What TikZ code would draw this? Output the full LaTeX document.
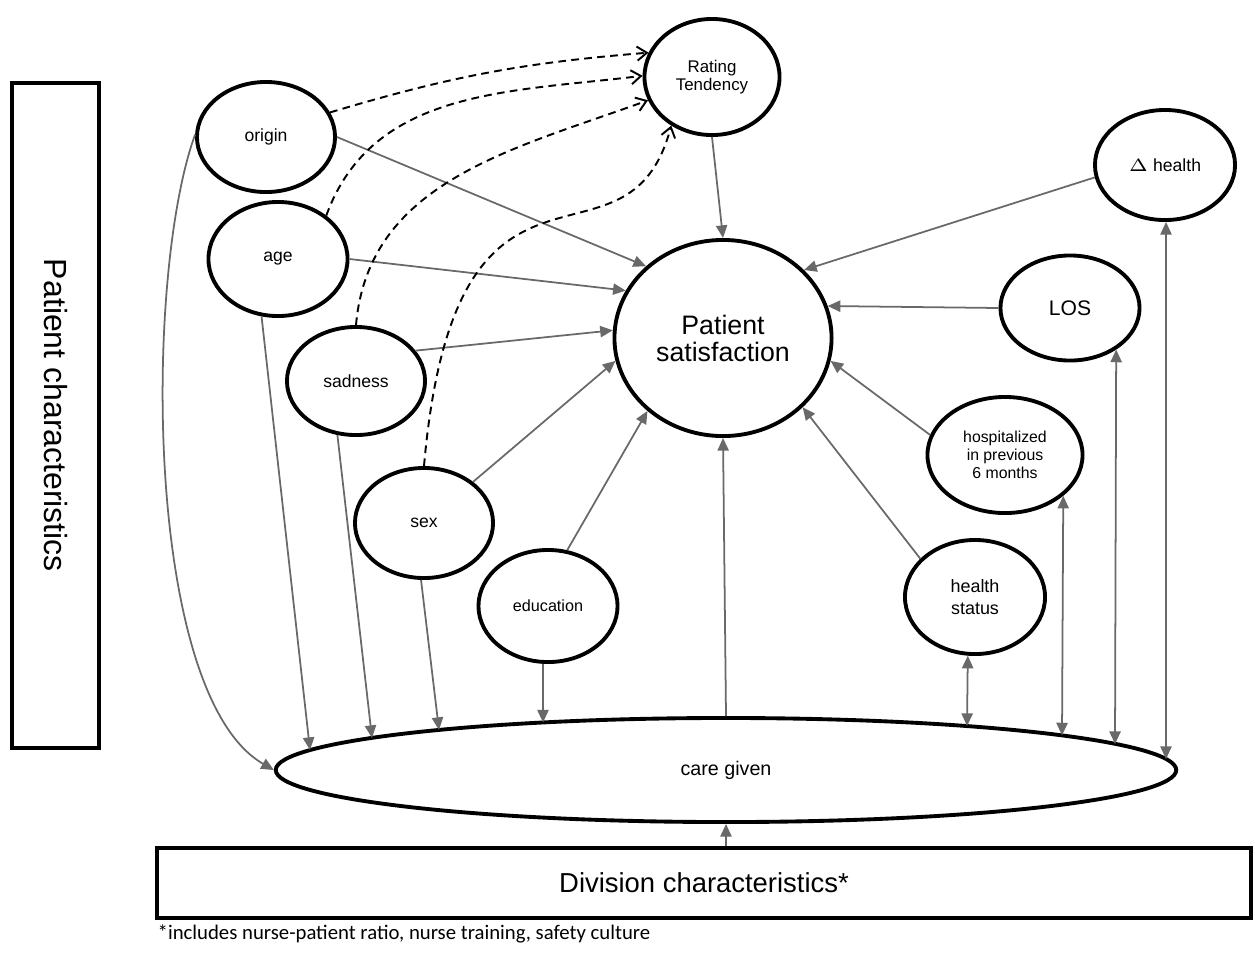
\documentclass[tikz,border=0pt]{standalone}
\usepackage{fontspec}
\setmainfont{Liberation Sans}
\newfontfamily\notefont{Carlito}
\usetikzlibrary{shapes.geometric,arrows.meta,positioning,calc}
\definecolor{linkgray}{RGB}{105,105,105}
\tikzset{var/.style={draw,ellipse,line width=1.1pt,inner sep=0pt,align=center,font=\fontsize{5}{5.2}\selectfont}}
\tikzset{eff/.style={color=linkgray,line width=0.5pt,-{Triangle[length=3.6pt,width=3.2pt]}}}
\tikzset{mut/.style={eff,{Triangle[length=3.6pt,width=3.2pt]}-{Triangle[length=3.6pt,width=3.2pt]}}}
\tikzset{tend/.style={dash pattern=on 2.2pt off 1.5pt,line width=0.55pt,-{Straight Barb[length=2.8pt,width=4pt]}}}

\begin{document}
\begin{tikzpicture}[x=0.01cm, y=-0.01cm]
\useasboundingbox (0,0) rectangle (1255,960);
% patient side
\node[var, minimum width=1.38cm, minimum height=1.10cm] (origin) at (266,137) {origin};
\node[var, minimum width=1.39cm, minimum height=1.14cm] (age) at (278,259) {age};
\node[var, minimum width=1.38cm, minimum height=1.08cm] (sadness) at (356,381) {sadness};
\node[var, minimum width=1.38cm, minimum height=1.10cm] (sex) at (424,523) {sex};
\node[var, minimum width=1.39cm, minimum height=1.12cm, font=\fontsize{4.6}{5}\selectfont] (edu) at (548,606) {education};
\node[var, minimum width=1.35cm, minimum height=1.16cm, font=\fontsize{4.8}{5.1}\selectfont] (RT) at (712,77) {Rating\\Tendency};
\node[var, minimum width=2.17cm, minimum height=1.96cm, font=\fontsize{7.6}{7.7}\selectfont] (PS) at (723,338) {Patient\\satisfaction};
% right side
\node[var, minimum width=1.40cm, minimum height=1.10cm] (DH) at (1165,165) {{\fontsize{4.2}{5}\selectfont$\Delta$} health};
\node[var, minimum width=1.39cm, minimum height=1.05cm, font=\fontsize{6}{6}\selectfont] (LOS) at (1070,308) {LOS};
\node[var, minimum width=1.55cm, minimum height=1.16cm, font=\fontsize{4.5}{5.1}\selectfont] (HP) at (1005,455) {hospitalized\\in previous\\6 months};
\node[var, minimum width=1.40cm, minimum height=1.14cm, font=\fontsize{5.1}{6.3}\selectfont] (HS) at (975,597) {health\\status};
% care and boxes
\node[var, minimum width=9.0cm, minimum height=1.04cm, font=\fontsize{5.6}{6}\selectfont] (CG) at (726,770) {care given};
\node[draw, line width=1.1pt, rotate=-90, minimum width=6.65cm, minimum height=0.87cm, font=\fontsize{9.1}{9.1}\selectfont] (PC) at (55.5,415.5) {Patient characteristics};
\node[draw, line width=1.1pt, minimum width=10.94cm, minimum height=0.70cm, font=\fontsize{7.8}{7.8}\selectfont] (DC) at (704,883) {Division characteristics*};
\node[anchor=west, inner sep=0pt, font=\notefont\fontsize{5.9}{6}\selectfont] (note) at (157,934) {*includes nurse-patient ratio, nurse training, safety culture};

\path[eff] (origin.east) edge (PS.137)
  (age.east) edge (PS.154)
  (sadness.27) edge (PS.176)
  (sex.40) edge (PS.192)
  (edu.71) edge (PS.224)
  (RT.south) edge (PS.north)
  (DH.190) edge (PS.40)
  (LOS.west) edge (PS.17)
  (HP.165) edge (PS.-12)
  (HS.145) edge (PS.-41)
  (CG.north) edge (PS.south);
\path[eff] (origin.178) edge[out=-110, in=150, looseness=0.6] (CG.west)
  (age.-106) edge ($(CG.center)+(-416,-20)$)
  (sadness.-109) edge ($(CG.center)+(-354,-32)$)
  (sex.-93) edge ($(CG.center)+(-287,-40)$)
  (edu.-95) edge ($(CG.center)+(-183,-47.5)$)
  (DC.north -| CG.south) edge (CG.south);
\path[mut] (HS.-97) edge ($(CG.center)+(241,-44)$)
  (HP.-35) edge ($(CG.center)+(336,-34.6)$)
  (LOS.-42) edge ($(CG.center)+(389,-26)$)
  (DH.-89) edge ($(CG.center)+(440,-11)$);
\path[tend] (origin.21) edge[bend left=6] (RT.159)
  (age.42) edge[out=70, in=187] (RT.179)
  (sadness.90) edge[out=85, in=200] (RT.200)
  (sex.90) edge[out=85, in=255, out looseness=2.2, in looseness=1.05] (RT.230);
\end{tikzpicture}
\end{document}
